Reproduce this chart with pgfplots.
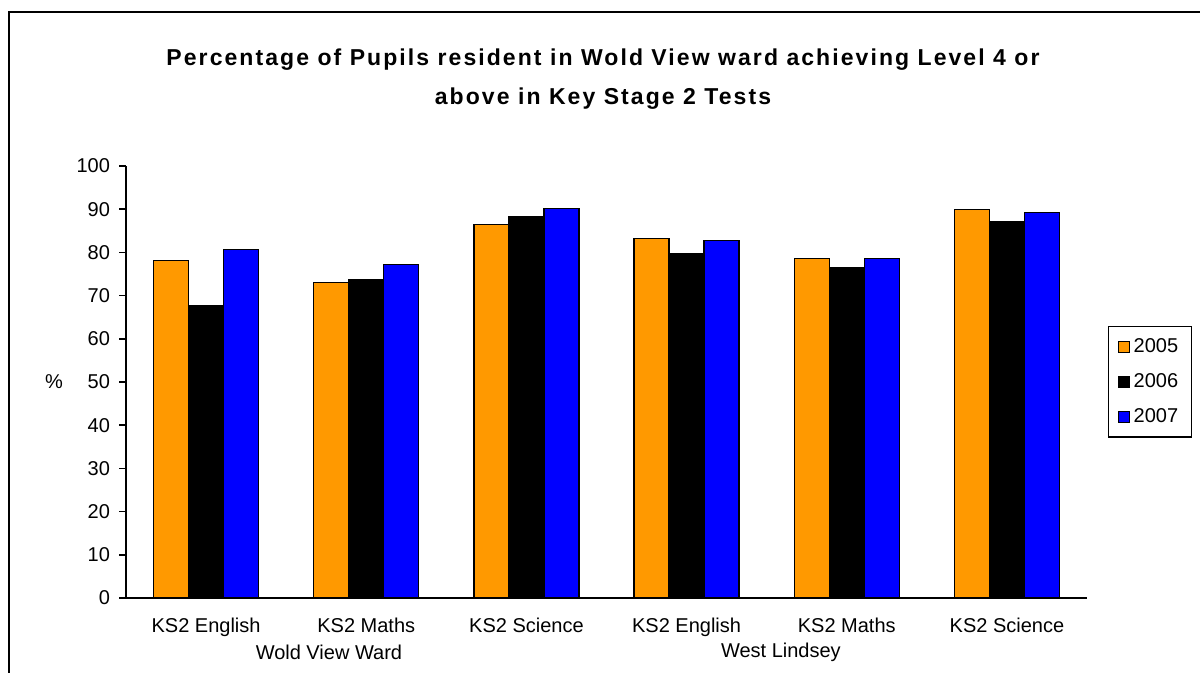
\documentclass[border=0pt]{standalone}
\usepackage{pgfplots}
\pgfplotsset{compat=1.18}
\usepackage{fontspec}
\setmainfont{Liberation Sans}

\definecolor{c2005}{HTML}{FF9900}
\definecolor{c2006}{HTML}{000000}
\definecolor{c2007}{HTML}{0000FF}

\begin{document}
\begin{tikzpicture}
\useasboundingbox (0,0) rectangle (600pt,336.5pt);
% chart area frame
\draw[line width=0.9pt] (4.5pt,-5pt) -- (4.5pt,330.6pt) -- (610pt,330.6pt);
% title
\node[align=center, font=\fontsize{11.5}{19.5}\selectfont\bfseries\addfontfeature{LetterSpace=9}] at (301.5pt,297pt)
  {Percentage of Pupils resident in Wold View ward achieving Level 4 or\\above in Key Stage 2 Tests};

\begin{axis}[
  at={(63pt,37.5pt)}, anchor=south west,
  scale only axis,
  width=480.5pt, height=216pt,
  ybar=0pt, bar width=17.5pt,
  xmin=-0.5, xmax=5.5,
  ymin=0, ymax=100,
  axis x line*=bottom, axis y line*=left,
  axis line style={line width=0.8pt},
  tick align=outside,
  major tick length=3.5pt, minor tick length=3.5pt,
  ytick={0,10,...,100},
  xtick={0,...,5},
  xticklabels={KS2 English,KS2 Maths,KS2 Science,KS2 English,KS2 Maths,KS2 Science},
  x tick style={draw=none},
  minor xtick={-0.5,0.5,...,5.5},
  minor x tick style={line width=0.8pt, black},
  y tick style={line width=0.8pt, black},
  tick label style={font=\fontsize{10}{12}\selectfont},
  /pgf/number format/assume math mode=true,
  xticklabel style={yshift=-3pt},
  yticklabel style={xshift=-1pt},
  clip=false,
  legend style={at={(1.0219,0.501)}, anchor=west, draw=black, line width=0.6pt,
    font=\fontsize{10}{12}\selectfont, row sep=5pt, inner xsep=4.5pt, inner ysep=4pt,
    legend cell align=left},
  legend image code/.code={\draw[#1, line width=0.4pt] (0pt,-2.8pt) rectangle (5.6pt,2.8pt);},
  every axis plot/.append style={draw=black, line width=0.6pt},
]
\addplot[fill=c2005] coordinates {(0,78.2) (1,73.0) (2,86.5) (3,83.3) (4,78.5) (5,90.0)};
\addplot[fill=c2006] coordinates {(0,67.7) (1,73.6) (2,88.4) (3,79.7) (4,76.5) (5,87.1)};
\addplot[fill=c2007] coordinates {(0,80.6) (1,77.2) (2,90.1) (3,82.8) (4,78.5) (5,89.3)};
\legend{2005,2006,2007}
\node[font=\fontsize{10}{12}\selectfont] at (rel axis cs:-0.075,0.5) {\%};
\node[font=\fontsize{10}{12}\selectfont] at (axis cs:0.767,0) [yshift=-27pt] {Wold View Ward};
\node[font=\fontsize{10}{12}\selectfont] at (axis cs:3.589,0) [yshift=-27pt] {West Lindsey};
\end{axis}
\end{tikzpicture}
\end{document}
